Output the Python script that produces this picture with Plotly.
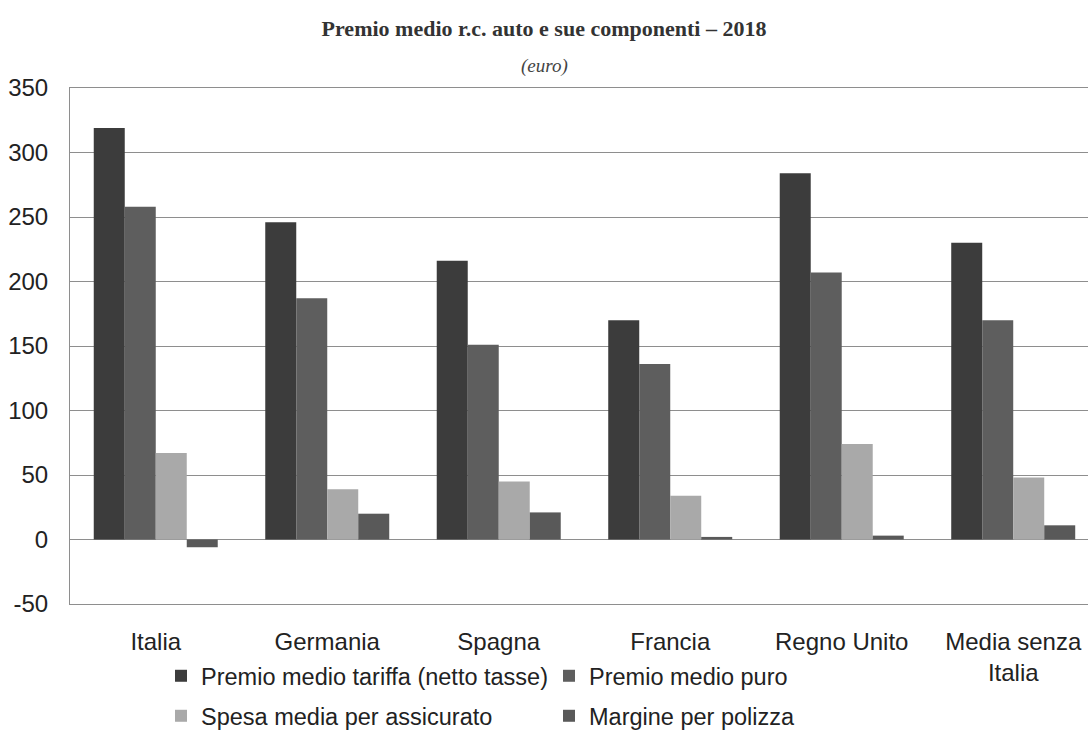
import plotly.graph_objects as go

# Premio medio r.c. auto e sue componenti, 2018 (euro)
PAESI = ["Italia", "Germania", "Spagna", "Francia", "Regno Unito", "Media senza<br>Italia"]

PREMIO_TARIFFA = [319, 246, 216, 170, 284, 230]
PREMIO_PURO = [258, 187, 151, 136, 207, 170]
SPESA_MEDIA = [67, 39, 45, 34, 74, 48]
MARGINE = [-6, 20, 21, 2, 3, 11]

SERIES = [
    ("Premio medio tariffa (netto tasse)", PREMIO_TARIFFA, "#3c3c3c", "legend"),
    ("Premio medio puro", PREMIO_PURO, "#5e5e5e", "legend"),
    ("Spesa media per assicurato", SPESA_MEDIA, "#a9a9a9", "legend2"),
    ("Margine per polizza", MARGINE, "#595959", "legend2"),
]

Y_TICKS = [-50, 0, 50, 100, 150, 200, 250, 300, 350]

FONT = "Liberation Sans, Arial, sans-serif"
SERIF = "Liberation Serif, Times New Roman, serif"
GRID = "#8e8e8e"


def main():
    fig = go.Figure()
    for name, values, color, legend in SERIES:
        fig.add_trace(go.Bar(
            name=name, x=PAESI, y=values,
            marker=dict(color=color, line=dict(width=0)),
            legend=legend,
        ))

    legend_style = dict(
        orientation="h",
        xref="container",
        yref="container",
        xanchor="left",
        yanchor="middle",
        x=0.148,
        font=dict(family=FONT, size=23.5, color="#222222"),
        itemwidth=30,
        entrywidth=343,
        entrywidthmode="pixels",
        bgcolor="rgba(0,0,0,0)",
        traceorder="normal",
    )

    fig.update_layout(
        width=1088,
        height=732,
        margin=dict(l=70, r=0, t=88, b=128, autoexpand=False),
        paper_bgcolor="white",
        plot_bgcolor="white",
        barmode="group",
        bargap=0.277,
        bargroupgap=0,
        title=dict(
            text="<b>Premio medio r.c. auto e sue componenti – 2018</b>",
            x=0.5, xref="container", xanchor="center",
            y=1 - 28 / 732, yref="container", yanchor="middle",
            font=dict(family=SERIF, size=22, color="#333333"),
        ),
        annotations=[dict(
            text="<i>(euro)</i>", showarrow=False,
            xref="paper", yref="paper", x=0.4666, y=1.0436,
            xanchor="center", yanchor="middle",
            font=dict(family=SERIF, size=19, color="#444444"),
        )],
        legend=dict(legend_style, y=1 - 676 / 732),
        legend2=dict(legend_style, y=1 - 716 / 732),
        xaxis=dict(
            range=[-0.5, 5.436],
            automargin=False,
            showgrid=False,
            showline=True, linecolor=GRID, linewidth=1, mirror=True,
            ticks="",
            ticklabelstandoff=16,
            tickfont=dict(family=FONT, size=24, color="#222222"),
        ),
        yaxis=dict(
            range=[-50, 350],
            automargin=False,
            tickvals=Y_TICKS,
            ticktext=[str(v) for v in Y_TICKS],
            showgrid=True, gridcolor=GRID, gridwidth=1,
            zeroline=True, zerolinecolor=GRID, zerolinewidth=1,
            showline=True, linecolor=GRID, linewidth=1,
            ticks="",
            ticklabelstandoff=16,
            tickfont=dict(family=FONT, size=24, color="#222222"),
        ),
    )

    # the page's default body margin would push the figure 8px right and down
    fig.write_html(
        "out.html",
        config={"displayModeBar": False},
        post_script="document.body.style.margin = '0';",
    )


if __name__ == "__main__":
    main()
